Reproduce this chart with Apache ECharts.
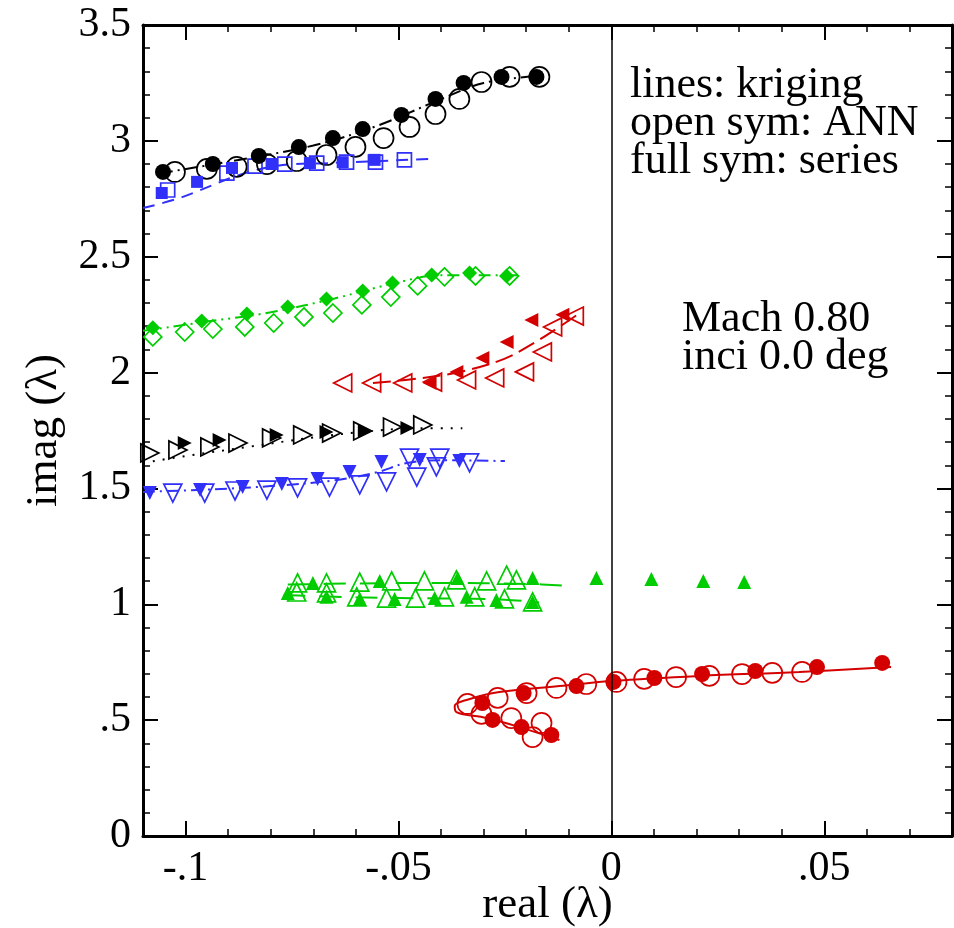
<!DOCTYPE html>
<html>
<head>
<meta charset="utf-8">
<script src="https://cdn.jsdelivr.net/npm/echarts@6/dist/echarts.min.js"></script>
<style>
  html, body { margin: 0; padding: 0; background: #fff; }
  #chart { width: 954px; height: 928px; }
</style>
</head>
<body>
<div id="chart"></div>
<script>
// ---- axis ticks ----
const xTickValues = [-0.1, -0.05, 0, 0.05];
const xTickText = ['-.1', '-.05', '0', '.05'];
const yTickValues = [0, 0.5, 1, 1.5, 2, 2.5, 3, 3.5];
const yTickText = ['0', '.5', '1', '1.5', '2', '2.5', '3', '3.5'];

// ---- mode 1 (black circles) ----
const m1Series = [[-0.1053,2.866],[-0.0936,2.900],[-0.0828,2.935],[-0.0734,2.973],[-0.0654,3.012],[-0.0584,3.051],[-0.0493,3.112],[-0.0413,3.181],[-0.0347,3.250],[-0.0258,3.276],[-0.0176,3.276]];
const m1ANN = [[-0.1025,2.866],[-0.0950,2.879],[-0.0880,2.888],[-0.0809,2.900],[-0.0739,2.913],[-0.0669,2.939],[-0.0601,2.974],[-0.0535,3.012],[-0.0474,3.060],[-0.0413,3.116],[-0.0357,3.181],[-0.0305,3.254],[-0.0239,3.276],[-0.0169,3.276]];
const m1Kriging = [[-0.106,2.860],[-0.090,2.910],[-0.070,2.980],[-0.055,3.065],[-0.040,3.180],[-0.030,3.250],[-0.017,3.280]];

// ---- mode 2 (blue squares) ----
const m2Series = [[-0.1056,2.775],[-0.0973,2.823],[-0.0891,2.883],[-0.0798,2.900],[-0.0708,2.904],[-0.0631,2.908],[-0.0556,2.918]];
const m2ANN = [[-0.1042,2.788],[-0.0903,2.861],[-0.0837,2.891],[-0.0767,2.900],[-0.0692,2.904],[-0.0622,2.908],[-0.0554,2.908],[-0.0486,2.918]];
const m2Kriging = [[-0.110,2.710],[-0.1013,2.754],[-0.0873,2.853],[-0.0772,2.896],[-0.0662,2.904],[-0.0427,2.922]];

// ---- mode 3 (green diamonds) ----
const m3Series = [[-0.1077,2.193],[-0.0962,2.223],[-0.0856,2.253],[-0.0760,2.283],[-0.0669,2.318],[-0.0584,2.352],[-0.0514,2.387],[-0.0422,2.421],[-0.0333,2.430],[-0.0246,2.417]];
const m3ANN = [[-0.1077,2.154],[-0.1002,2.175],[-0.0936,2.188],[-0.0861,2.197],[-0.0793,2.214],[-0.0722,2.240],[-0.0654,2.257],[-0.0586,2.292],[-0.0518,2.326],[-0.0455,2.374],[-0.0392,2.413],[-0.0319,2.417],[-0.0239,2.417]];
const m3Kriging = [[-0.110,2.180],[-0.095,2.220],[-0.080,2.260],[-0.065,2.320],[-0.050,2.390],[-0.040,2.420],[-0.022,2.420]];

// ---- mode 4 (red left triangles) ----
const m4Series = [[-0.0427,1.955],[-0.0364,2.003],[-0.0303,2.063],[-0.0246,2.132],[-0.0188,2.227],[-0.0115,2.249]];
const m4ANN = [[-0.0631,1.955],[-0.0563,1.955],[-0.0490,1.955],[-0.0420,1.959],[-0.0340,1.968],[-0.0274,1.977],[-0.0204,2.003],[-0.0162,2.089],[-0.0138,2.197],[-0.0087,2.244]];
const m4Kriging = [[-0.056,1.955],[-0.045,1.975],[-0.035,2.005],[-0.025,2.060],[-0.018,2.130],[-0.012,2.200],[-0.008,2.250]];

// ---- mode 5 (black right triangles) ----
const m5Series = [[-0.1002,1.696],[-0.0920,1.709],[-0.0786,1.731],[-0.0669,1.744],[-0.0579,1.748],[-0.0479,1.761]];
const m5ANN = [[-0.1084,1.653],[-0.1018,1.666],[-0.0943,1.679],[-0.0877,1.696],[-0.0798,1.718],[-0.0725,1.731],[-0.0657,1.739],[-0.0584,1.748],[-0.0514,1.765],[-0.0443,1.774]];
const m5Kriging = [[-0.110,1.610],[-0.100,1.640],[-0.085,1.680],[-0.070,1.720],[-0.055,1.750],[-0.045,1.760],[-0.035,1.760]];

// ---- mode 6 (blue down triangles) ----
const m6Series = [[-0.1084,1.480],[-0.0966,1.493],[-0.0866,1.506],[-0.0774,1.519],[-0.0690,1.541],[-0.0615,1.571],[-0.0540,1.614],[-0.0450,1.623],[-0.0357,1.618]];
const m6ANN = [[-0.1030,1.480],[-0.0955,1.480],[-0.0884,1.489],[-0.0809,1.493],[-0.0737,1.502],[-0.0662,1.506],[-0.0591,1.515],[-0.0528,1.528],[-0.0457,1.549],[-0.0411,1.593],[-0.0474,1.631],[-0.0403,1.631],[-0.0333,1.610]];
const m6Kriging = [[-0.110,1.485],[-0.095,1.495],[-0.080,1.510],[-0.065,1.535],[-0.055,1.570],[-0.048,1.610],[-0.040,1.622],[-0.025,1.618]];

// ---- mode 7 (green up triangles, two branches) ----
const m7SeriesA = [[-0.0701,1.092],[-0.0544,1.101],[-0.0361,1.113],[-0.0185,1.113],[-0.0035,1.113],[0.0094,1.109],[0.0216,1.101],[0.0312,1.096]];
const m7SeriesB = [[-0.0760,1.049],[-0.0669,1.032],[-0.0591,1.023],[-0.0509,1.023],[-0.0415,1.027],[-0.0340,1.032],[-0.0270,1.019],[-0.0185,1.010]];
const m7ANNA = [[-0.0737,1.092],[-0.0669,1.092],[-0.0591,1.096],[-0.0516,1.101],[-0.0439,1.101],[-0.0364,1.105],[-0.0293,1.101],[-0.0246,1.126],[-0.0223,1.105]];
const m7ANNB = [[-0.0739,1.053],[-0.0669,1.049],[-0.0598,1.032],[-0.0528,1.027],[-0.0460,1.027],[-0.0392,1.032],[-0.0321,1.032],[-0.0251,1.023],[-0.0185,1.010]];
const m7KrigingA = [[-0.076,1.085],[-0.060,1.090],[-0.040,1.092],[-0.020,1.088],[-0.0105,1.080]];
const m7KrigingB = [[-0.077,1.040],[-0.060,1.030],[-0.040,1.025],[-0.025,1.020],[-0.017,1.008]];

// ---- mode 8 (red circles, folded branch) ----
const m8Series = [[-0.0303,0.574],[-0.0206,0.617],[-0.0082,0.647],[0.0005,0.665],[0.0101,0.682],[0.0213,0.699],[0.0338,0.712],[0.0483,0.729],[0.0636,0.747],[-0.0279,0.501],[-0.0211,0.470],[-0.0141,0.436]];
const m8ANN = [[-0.0338,0.570],[-0.0267,0.596],[-0.0199,0.617],[-0.0129,0.639],[-0.0059,0.656],[0.0012,0.665],[0.0077,0.678],[0.0152,0.686],[0.0230,0.691],[0.0307,0.699],[0.0378,0.704],[0.0448,0.708],[-0.0305,0.527],[-0.0235,0.509],[-0.0164,0.488],[-0.0185,0.427]];
const m8Kriging = [[0.0657,0.729],[0.0441,0.708],[0.0206,0.691],[0.0,0.669],[-0.0122,0.647],[-0.0263,0.621],[-0.0340,0.587],[-0.0368,0.561],[-0.0364,0.535],[-0.0293,0.509],[-0.0216,0.470],[-0.0122,0.414]];

// ---- styling ----
const BLACK = '#000000';
const BLUE = '#3030f8';
const GREEN = '#00cc00';
const RED = '#d40000';
const FONT = '"Liberation Serif", "Times New Roman", serif';

function krigingLine(data, color, dash) {
  return {
    type: 'line', data: data, showSymbol: false, symbol: 'none', smooth: 0.35,
    lineStyle: { color: color, width: 2, type: dash, opacity: 1 },
    z: 2, silent: true
  };
}
function openSym(data, color, symbol, size, rotate) {
  return {
    type: 'scatter', data: data, symbol: symbol, symbolSize: size, symbolRotate: rotate || 0,
    itemStyle: { color: 'rgba(255,255,255,0)', borderColor: color, borderWidth: 1.7, opacity: 1 },
    z: 3, silent: true
  };
}
function fullSym(data, color, symbol, size, rotate) {
  return {
    type: 'scatter', data: data, symbol: symbol, symbolSize: size, symbolRotate: rotate || 0,
    itemStyle: { color: color, borderWidth: 0, opacity: 1 },
    z: 4, silent: true
  };
}

function tickText(values, texts) {
  return function (v) {
    for (let i = 0; i < values.length; i++) {
      if (Math.abs(v - values[i]) < 1e-9) return texts[i];
    }
    return '';
  };
}

const xCommon = { type: 'value', min: -0.11, max: 0.08, splitLine: { show: false } };
const yCommon = { type: 'value', min: 0, max: 3.5, splitLine: { show: false } };

// major ticks (long) on an axis with visible line; minor ticks (short) on a lineless twin axis
function xMajor(pos, extra) {
  return Object.assign({}, xCommon, {
    position: pos, minInterval: 0.05, maxInterval: 0.05,
    axisLine: { show: true, onZero: false, lineStyle: { color: BLACK, width: 3 } },
    axisTick: { show: true, inside: true, length: 15, lineStyle: { color: BLACK, width: 2 } },
    axisLabel: { show: false }
  }, extra || {});
}
function xMinor(pos) {
  return Object.assign({}, xCommon, {
    position: pos, interval: 0.01,
    axisLine: { show: false, onZero: false },
    axisTick: { show: true, inside: true, length: 7, lineStyle: { color: BLACK, width: 1.5 } },
    axisLabel: { show: false }
  });
}
function yMajor(pos, extra) {
  return Object.assign({}, yCommon, {
    position: pos, interval: 0.5,
    axisLine: { show: true, onZero: false, lineStyle: { color: BLACK, width: 3 } },
    axisTick: { show: true, inside: true, length: 15, lineStyle: { color: BLACK, width: 2 } },
    axisLabel: { show: false }
  }, extra || {});
}
function yMinor(pos) {
  return Object.assign({}, yCommon, {
    position: pos, interval: 0.1,
    axisLine: { show: false, onZero: false },
    axisTick: { show: true, inside: true, length: 7, lineStyle: { color: BLACK, width: 1.5 } },
    axisLabel: { show: false }
  });
}

const option = {
  backgroundColor: '#ffffff',
  animation: false,
  grid: { left: 143, right: 2, top: 25, bottom: 92, containLabel: false, outerBoundsMode: 'none' },
  xAxis: [
    xMajor('bottom', {
      axisLabel: { show: true, formatter: tickText(xTickValues, xTickText), fontSize: 42, fontFamily: FONT, color: BLACK, margin: 12, showMinLabel: false, showMaxLabel: false },
      name: 'real (λ)', nameLocation: 'middle', nameGap: 47, nameMoveOverlap: false,
      nameTextStyle: { fontSize: 45, fontFamily: FONT, color: BLACK }
    }),
    xMinor('bottom'),
    xMajor('top'),
    xMinor('top')
  ],
  yAxis: [
    yMajor('left', {
      axisLabel: { show: true, formatter: tickText(yTickValues, yTickText), fontSize: 42, fontFamily: FONT, color: BLACK, margin: 12 },
      name: 'imag (λ)', nameLocation: 'middle', nameGap: 76, nameRotate: 90, nameMoveOverlap: false,
      nameTextStyle: { fontSize: 45, fontFamily: FONT, color: BLACK }
    }),
    yMinor('left'),
    yMajor('right'),
    yMinor('right')
  ],
  graphic: [
    {
      type: 'text', left: 630, top: 63, z: 10,
      style: { text: 'lines: kriging\nopen sym: ANN\nfull sym: series', font: '44px ' + FONT, fill: BLACK, lineHeight: 38 }
    },
    {
      type: 'text', left: 682, top: 297, z: 10,
      style: { text: 'Mach 0.80\ninci 0.0 deg', font: '44px ' + FONT, fill: BLACK, lineHeight: 38 }
    }
  ],
  series: [
    // zero-real reference line
    {
      type: 'line', data: [], silent: true,
      markLine: {
        silent: true, symbol: 'none', label: { show: false }, animation: false,
        lineStyle: { color: BLACK, width: 1.5, type: 'solid' },
        data: [{ xAxis: 0 }]
      }
    },
    krigingLine(m1Kriging, BLACK, [13, 5, 2, 5]),
    krigingLine(m2Kriging, BLUE, [12, 8]),
    krigingLine(m3Kriging, GREEN, [12, 5, 2, 5, 2, 5]),
    krigingLine(m4Kriging, RED, [18, 7]),
    krigingLine(m5Kriging, BLACK, [2, 8]),
    krigingLine(m6Kriging, BLUE, [12, 5, 2, 5]),
    krigingLine(m7KrigingA, GREEN, [22, 14]),
    krigingLine(m7KrigingB, GREEN, [22, 14]),
    Object.assign(krigingLine(m8Kriging, RED, 'solid'), { smooth: 0.4 }),

    openSym(m1ANN, BLACK, 'circle', 20),
    openSym(m2ANN, BLUE, 'rect', 14),
    openSym(m3ANN, GREEN, 'diamond', 18),
    openSym(m4ANN, RED, 'triangle', 18, 90),
    openSym(m5ANN, BLACK, 'triangle', 18, -90),
    openSym(m6ANN, BLUE, 'triangle', 18, 180),
    openSym(m7ANNA, GREEN, 'triangle', 18),
    openSym(m7ANNB, GREEN, 'triangle', 18),
    openSym(m8ANN, RED, 'circle', 20),

    fullSym(m1Series, BLACK, 'circle', 16),
    fullSym(m2Series, BLUE, 'rect', 12),
    fullSym(m3Series, GREEN, 'diamond', 15),
    fullSym(m4Series, RED, 'triangle', 14, 90),
    fullSym(m5Series, BLACK, 'triangle', 14, -90),
    fullSym(m6Series, BLUE, 'triangle', 14, 180),
    fullSym(m7SeriesA, GREEN, 'triangle', 14),
    fullSym(m7SeriesB, GREEN, 'triangle', 14),
    fullSym(m8Series, RED, 'circle', 16)
  ]
};

const chart = echarts.init(document.getElementById('chart'), null, { renderer: 'canvas' });
chart.setOption(option);
</script>
</body>
</html>
